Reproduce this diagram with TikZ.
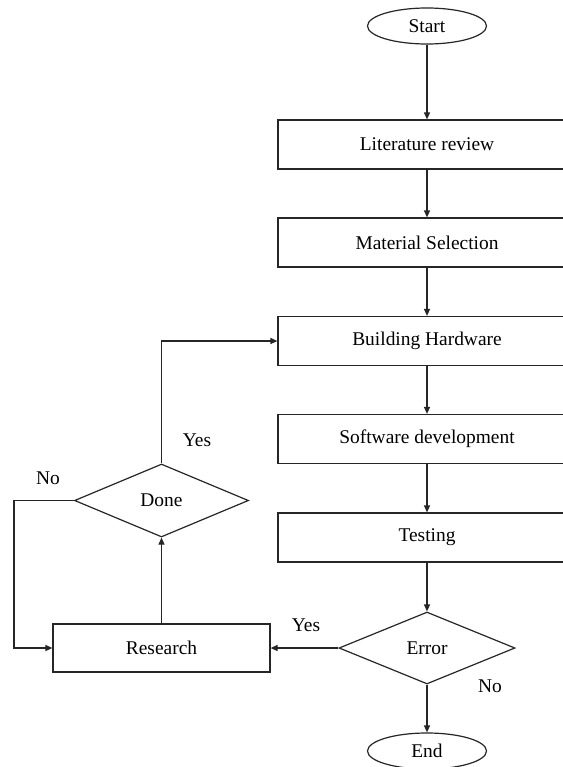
\documentclass[tikz,border=0pt]{standalone}
\usepackage{fontspec}
\setmainfont{Liberation Serif}
\usetikzlibrary{shapes.geometric,arrows.meta}
\tikzset{
  line/.style={draw=black!85, line width=1.2bp},
  arr/.style={line, -{Triangle[length=7bp,width=6bp]}},
  procbox/.style={line, rectangle, minimum width=298bp, minimum height=49bp, inner sep=0pt},
  termin/.style={line, ellipse, minimum width=119bp, minimum height=36bp, inner sep=0pt},
  decis/.style={line, diamond, minimum width=176bp, minimum height=72bp, inner sep=0pt},
  lbl/.style={inner sep=0pt},
}
\begin{document}
\begin{tikzpicture}[x=1bp,y=-1bp,font=\fontsize{19.5}{23}\selectfont]
\useasboundingbox (0,0) rectangle (563,767);
\clip (0,0) rectangle (563,767);
\fill[white] (0,0) rectangle (563,767);
\node[termin] (start) at (427,26) {Start};
\node[procbox] (lit) at (427,144.5) {Literature review};
\node[procbox] (mat) at (427,242.5) {Material Selection};
\node[procbox] (bh) at (427,341) {Building Hardware};
\node[procbox] (sw) at (427,439) {Software development};
\node[procbox] (test) at (427,537.5) {Testing};
\node[decis] (err) at (427,648) {Error};
\node[termin] (end) at (427,751) {End};
\node[procbox, minimum width=217bp, minimum height=48bp] (res) at (161.5,648) {Research};
\node[decis, minimum width=174bp, minimum height=73bp] (done) at (161.5,500.5) {Done};
\coordinate (nob) at (14,500.5);
\draw[arr] (start) -- (lit);
\draw[arr] (lit) -- (mat);
\draw[arr] (mat) -- (bh);
\draw[arr] (bh) -- (sw);
\draw[arr] (sw) -- (test);
\draw[arr] (test) -- (err);
\draw[arr] (err) -- (end);
\draw[arr] (err.west) -- (res.east);
\draw[arr] (res.north) -- (done.south);
\draw[arr] (done.north) |- (bh.west);
\draw[arr] (done.west) -- (nob) |- (res.west);
\node[lbl] (y1) at (197,440) {Yes};
\node[lbl] (n1) at (48,478) {No};
\node[lbl] (y2) at (306,625) {Yes};
\node[lbl] (n2) at (490,686) {No};
\end{tikzpicture}
\end{document}
